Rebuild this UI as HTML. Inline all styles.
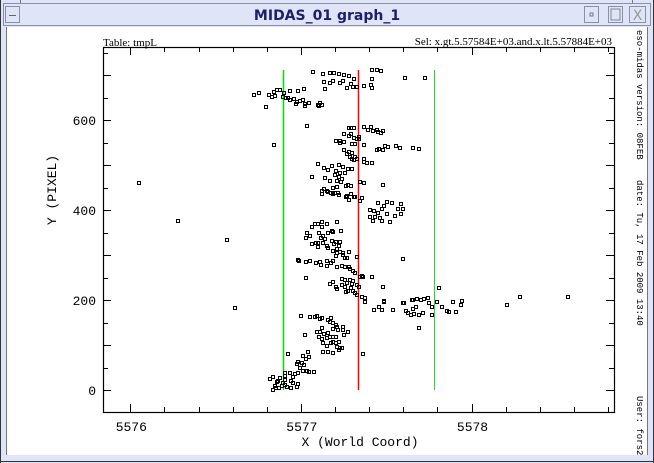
<!DOCTYPE html>
<html><head><meta charset="utf-8">
<style>
html,body{margin:0;padding:0;width:654px;height:463px;overflow:hidden;background:#dfe4f6;}
svg{display:block;}
</style></head>
<body>
<svg id="chart" width="654" height="463" viewBox="0 0 654 463" xmlns="http://www.w3.org/2000/svg">
  <rect x="0" y="0" width="654" height="463" fill="#dfe4f6"/>
  <line x1="0.5" y1="0" x2="0.5" y2="463" stroke="#333"/>
  <line x1="653.5" y1="0" x2="653.5" y2="463" stroke="#333"/>
  <line x1="0" y1="461.5" x2="654" y2="461.5" stroke="#333"/>
  <line x1="20.5" y1="0" x2="20.5" y2="3" stroke="#777"/>
  <line x1="632.5" y1="0" x2="632.5" y2="3" stroke="#777"/>
  <rect x="3.5" y="3.5" width="647" height="22" fill="#dfe4f6" stroke="#8a90a8"/>
  <rect x="5.5" y="6.5" width="14" height="16" fill="#dfe4f6" stroke="#8a90a8"/>
  <line x1="9" y1="15.5" x2="16" y2="15.5" stroke="#666"/>
  <text x="327" y="20" text-anchor="middle" font-family="'DejaVu Sans','Liberation Sans',sans-serif" font-weight="bold" font-size="14" fill="#1a1f6e">MIDAS_01 graph_1</text>
  <rect x="584.5" y="6.5" width="14" height="16" fill="#dfe4f6" stroke="#8a90a8"/>
  <rect x="590" y="13" width="3" height="3" fill="none" stroke="#777"/>
  <rect x="608.5" y="6.5" width="14" height="16" fill="#dfe4f6" stroke="#8a90a8"/>
  <rect x="611" y="9" width="9" height="11" fill="none" stroke="#888"/>
  <rect x="629.5" y="6.5" width="16" height="16" fill="#dfe4f6" stroke="#8a90a8"/>
  <text x="637.5" y="20" text-anchor="middle" font-family="'DejaVu Sans',sans-serif" font-size="14" fill="#999">X</text>
  <rect x="7" y="27" width="640" height="428" fill="#ffffff"/>
  <line x1="6.5" y1="27" x2="6.5" y2="455" stroke="#777"/>
  <line x1="647.5" y1="27" x2="647.5" y2="455" stroke="#777"/>

  <text x="103" y="46" font-family="'Liberation Serif',serif" font-size="11" fill="#000">Table: tmpL</text>
  <text x="612" y="45" text-anchor="end" font-family="'Liberation Serif',serif" font-size="11" fill="#000">Sel: x.gt.5.57584E+03.and.x.lt.5.57884E+03</text>

  <g font-family="'Liberation Mono',monospace" font-size="9" fill="#000">
    <text transform="translate(637,30) rotate(90)">eso-midas version: 08FEB</text>
    <text transform="translate(637,180) rotate(90)">date: Tu, 17 Feb 2009 13:40</text>
    <text transform="translate(637,396) rotate(90)">User: fors2</text>
  </g>

  <g id="axes"></g>
  <g id="lines"></g>
  <g id="marks"></g>

  <text x="360" y="446" text-anchor="middle" font-family="'Liberation Mono',monospace" font-size="13" fill="#000">X (World Coord)</text>
  <text transform="translate(56,190) rotate(-90)" text-anchor="middle" font-family="'Liberation Mono',monospace" font-size="13" fill="#000">Y (PIXEL)</text>
</svg>
<script>
const xTicks = [5576, 5577, 5578];
const yTicks = [0, 200, 400, 600];
const vLineXs = [5576.895, 5577.333, 5577.78];
const vLineColors = ['#00e000', '#ff0000', '#22dd22'];
const vLineTop = 711;
const pts = [
[5577.070,707],[5577.129,702],[5577.170,704],[5577.193,704],[5577.223,702],[5577.252,700],[5577.281,698],[5577.311,691],
[5577.246,687],[5577.229,682],[5577.188,687],[5577.135,684],[5577.170,682],[5577.293,680],[5577.270,671],[5577.305,673],
[5577.328,673],[5577.141,669],[5577.369,676],[5577.416,711],[5577.445,711],[5577.469,709],[5577.416,691],[5577.410,678],
[5577.416,671],[5577.609,693],[5577.727,693],[5577.018,669],
[5576.725,656],[5576.754,660],[5576.795,629],[5576.812,656],[5576.830,651],[5576.848,653],[5576.842,662],[5576.859,667],
[5576.877,667],[5576.900,660],[5576.895,651],[5576.912,649],[5576.924,649],[5576.936,664],[5576.936,644],[5576.959,647],
[5576.977,640],[5576.982,664],[5576.971,636],[5576.994,642],[5577.012,644],[5577.023,636],[5577.023,631],[5577.047,638],
[5577.100,633],[5577.105,631],[5577.111,638],[5577.123,633],[5577.035,587],[5576.842,544],[5576.051,460],[5576.279,376],
[5576.566,333],[5576.613,182],[5576.982,289],
[5577.281,582],[5577.293,582],[5577.311,582],[5577.369,584],[5577.393,578],[5577.410,584],[5577.422,576],[5577.445,578],
[5577.451,573],[5577.469,571],[5577.481,576],[5577.252,569],[5577.281,564],[5577.293,569],[5577.311,560],[5577.328,558],
[5577.340,562],[5577.340,558],[5577.205,553],[5577.229,553],[5577.229,549],[5577.252,551],[5577.299,547],[5577.316,547],
[5577.369,544],[5577.492,542],[5577.510,540],[5577.445,533],[5577.457,536],[5577.481,533],[5577.557,542],[5577.580,538],
[5577.656,538],[5577.691,536],[5577.252,533],[5577.281,529],[5577.299,527],[5577.270,524],[5577.287,518],[5577.316,518],
[5577.299,513],[5577.328,513],[5577.311,511],[5577.369,513],[5577.369,507],[5577.387,504],[5577.416,504],
[5577.100,502],[5577.135,493],[5577.182,498],[5577.158,489],[5577.223,500],[5577.246,496],[5577.205,487],[5577.229,482],
[5577.258,482],[5577.275,491],[5577.299,491],[5577.199,478],[5577.223,473],[5577.240,469],[5577.064,473],[5577.141,471],
[5577.170,464],[5577.211,464],[5577.234,462],[5577.346,462],[5577.369,460],[5577.264,453],[5577.275,456],[5577.293,453],
[5577.211,451],[5577.188,449],[5577.135,447],[5577.123,442],[5577.152,442],[5577.176,438],[5577.199,438],[5577.223,433],
[5577.123,436],[5577.270,431],[5577.293,436],[5577.316,429],[5577.357,427],[5577.481,456],
[5577.158,440],[5577.188,436],[5577.217,438],[5577.264,429],[5577.281,422],[5577.311,429],[5577.346,420],
[5577.451,416],[5577.486,409],[5577.504,418],[5577.533,416],[5577.586,413],[5577.568,402],[5577.598,402],[5577.404,400],
[5577.428,398],[5577.451,393],[5577.475,402],[5577.504,391],[5577.551,387],[5577.404,384],[5577.434,384],[5577.463,382],
[5577.422,376],[5577.475,376],[5577.522,373],[5577.586,391],
[5577.123,373],[5577.082,369],[5577.064,362],[5577.100,369],[5577.152,369],[5577.123,362],[5577.211,373],[5577.035,349],
[5577.029,338],[5577.053,342],[5577.105,349],[5577.129,342],[5577.158,349],[5577.182,353],[5577.188,351],[5577.234,353],
[5577.117,338],[5577.141,336],[5577.100,327],[5577.064,324],[5577.088,327],[5577.129,327],[5577.182,331],[5577.205,329],
[5577.229,329],[5577.152,320],[5577.193,324],[5577.223,320],[5577.100,318],[5577.158,316],[5577.188,309],[5577.211,313],
[5577.229,307],[5577.211,304],[5577.246,304],[5577.281,307],[5577.205,298],[5577.246,300],[5577.258,293],[5577.270,293],
[5577.328,296],[5576.988,287],[5577.029,284],[5577.053,287],[5577.088,282],[5577.111,284],[5577.152,287],[5577.176,282],
[5577.188,287],[5577.117,278],[5577.211,273],[5577.240,276],[5577.152,276],[5577.258,273],[5577.287,269],[5577.305,264],
[5577.316,260],[5577.281,273],[5577.357,253],[5577.346,251],[5577.363,251],[5577.416,251],[5577.029,249],[5577.240,247],
[5577.258,244],[5577.287,244],[5577.305,242],[5577.188,240],[5577.270,238],[5577.299,236],[5577.328,233],[5577.170,236],
[5577.240,233],[5577.205,229],[5577.258,229],[5577.293,227],[5577.211,224],[5577.340,229],[5577.481,229],[5577.275,220],
[5577.305,220],[5577.316,216],[5577.264,218],[5577.328,211],[5577.357,207],[5577.375,204],[5577.375,196],[5577.486,196],
[5577.457,184],[5577.598,193],[5577.650,200],[5577.680,202],
[5577.598,291],[5577.809,227],[5577.604,193],[5577.656,200],[5577.703,200],[5577.721,202],[5577.744,204],[5577.750,193],
[5577.768,184],[5577.797,196],[5577.826,184],[5577.891,196],[5577.943,198],[5577.938,189],[5577.856,176],[5577.867,173],
[5577.908,173],[5577.768,167],[5577.691,138],[5577.674,184],[5577.656,180],[5577.615,176],[5577.627,171],[5577.645,167],
[5577.662,169],[5577.691,167],[5577.715,171],[5577.539,178],[5577.428,178],[5577.457,184],[5577.475,178],[5577.486,198],
[5578.207,189],[5578.283,207],[5578.565,207],
[5577.000,164],[5577.053,162],[5577.082,162],[5577.094,164],[5577.111,158],[5577.123,160],[5577.158,156],[5577.176,160],
[5577.170,151],[5577.188,149],[5577.205,144],[5577.211,140],[5577.188,136],[5577.246,140],[5577.246,133],[5577.217,133],
[5577.275,129],[5577.123,138],[5577.023,122],[5577.094,129],[5577.111,129],[5577.135,124],[5577.158,127],[5577.105,118],
[5577.123,113],[5577.152,116],[5577.170,118],[5577.188,118],[5577.205,118],[5577.252,122],[5577.129,104],[5577.152,98],
[5577.176,104],[5577.188,107],[5577.205,104],[5577.223,107],[5577.211,96],[5577.229,93],[5577.240,93],[5577.158,84],
[5577.188,82],[5577.223,89],[5577.129,84],[5576.924,80],[5577.363,80],[5577.041,84],[5577.012,76],[5577.047,73],
[5577.029,69],[5576.982,62],[5577.006,60],[5577.018,56],[5576.977,58],[5576.994,49],[5577.012,42],[5577.035,42],
[5577.047,40],[5577.076,40],[5576.982,38],[5576.965,36],[5576.953,29],[5576.936,38],[5576.906,38],[5576.906,31],
[5576.906,22],[5576.859,18],[5576.877,27],[5576.836,29],[5576.818,24],[5576.848,9],[5576.836,0],[5576.854,4],
[5576.871,4],[5576.889,9],[5576.906,11],[5576.918,7],[5576.941,4],[5576.941,20],[5576.953,16],[5576.982,13],
[5576.977,7],[5576.865,20],[5576.895,16]
];

const NS = 'http://www.w3.org/2000/svg';
const L = 103, R = 614, T = 47, B = 412;
function sx(v){ return 130.3 + (v - 5576) * 170.6; }
function sy(v){ return 390 - v * 0.45; }
function mk(tag, attrs, parent){
  const e = document.createElementNS(NS, tag);
  for (const k in attrs) e.setAttribute(k, attrs[k]);
  parent.appendChild(e);
  return e;
}
const axes = document.getElementById('axes');
const frame = mk('rect', {x:L+0.5, y:T+0.5, width:R-L, height:B-T, fill:'none', stroke:'#000', 'stroke-width':1.2}, axes);



// x ticks: minor every 0.2
for (let i = 0; i <= 15; i++) {
  const v = 5575.8 + i * 0.2;
  const px = Math.round(sx(v)) + 0.5;
  if (px < L || px > R) continue;
  const major = Math.abs(v - Math.round(v)) < 0.01;
  const len = major ? 8 : 5;
  const t1 = mk('line', {x1:px, y1:B, x2:px, y2:B-len, stroke:'#000'}, axes);
  
  
  const t2 = mk('line', {x1:px, y1:T, x2:px, y2:T+len, stroke:'#000'}, axes);
  
  
}
xTicks.forEach(v => {
  const t = mk('text', {x:sx(v)+1, y:431, 'text-anchor':'middle', 'font-family':"'Liberation Mono',monospace", 'font-size':13, fill:'#000'}, axes);
  t.textContent = String(v);
  
  
});
// y ticks every 50
for (let v = -50; v <= 750; v += 50) {
  const py = Math.round(sy(v)) + 0.5;
  if (py < T || py > B) continue;
  const major = v % 100 === 0;
  const len = major ? 8 : 5;
  const t1 = mk('line', {x1:L, y1:py, x2:L+len, y2:py, stroke:'#000'}, axes);
  
  
  const t2 = mk('line', {x1:R, y1:py, x2:R-len, y2:py, stroke:'#000'}, axes);
  
  
}
yTicks.forEach(v => {
  const t = mk('text', {x:96, y:sy(v)+5, 'text-anchor':'end', 'font-family':"'Liberation Mono',monospace", 'font-size':13, fill:'#000'}, axes);
  t.textContent = String(v);
  
  
});

const lines = document.getElementById('lines');
vLineXs.forEach((v, i) => {
  const px = Math.round(sx(v)) + 0.5;
  const ln = mk('line', {x1:px, y1:sy(0), x2:px, y2:sy(vLineTop), stroke:vLineColors[i], 'stroke-width': i === 2 ? 1 : 1.5}, lines);
  
  
});

const marks = document.getElementById('marks');
pts.forEach(p => {
  const cx = Math.round(sx(p[0])), cy = Math.round(sy(p[1]));
  const r = mk('rect', {x:cx-1.5, y:cy-1.5, width:3, height:3, fill:'none', stroke:'#000', 'stroke-width':1}, marks);
  
  
});
</script>
</body></html>
